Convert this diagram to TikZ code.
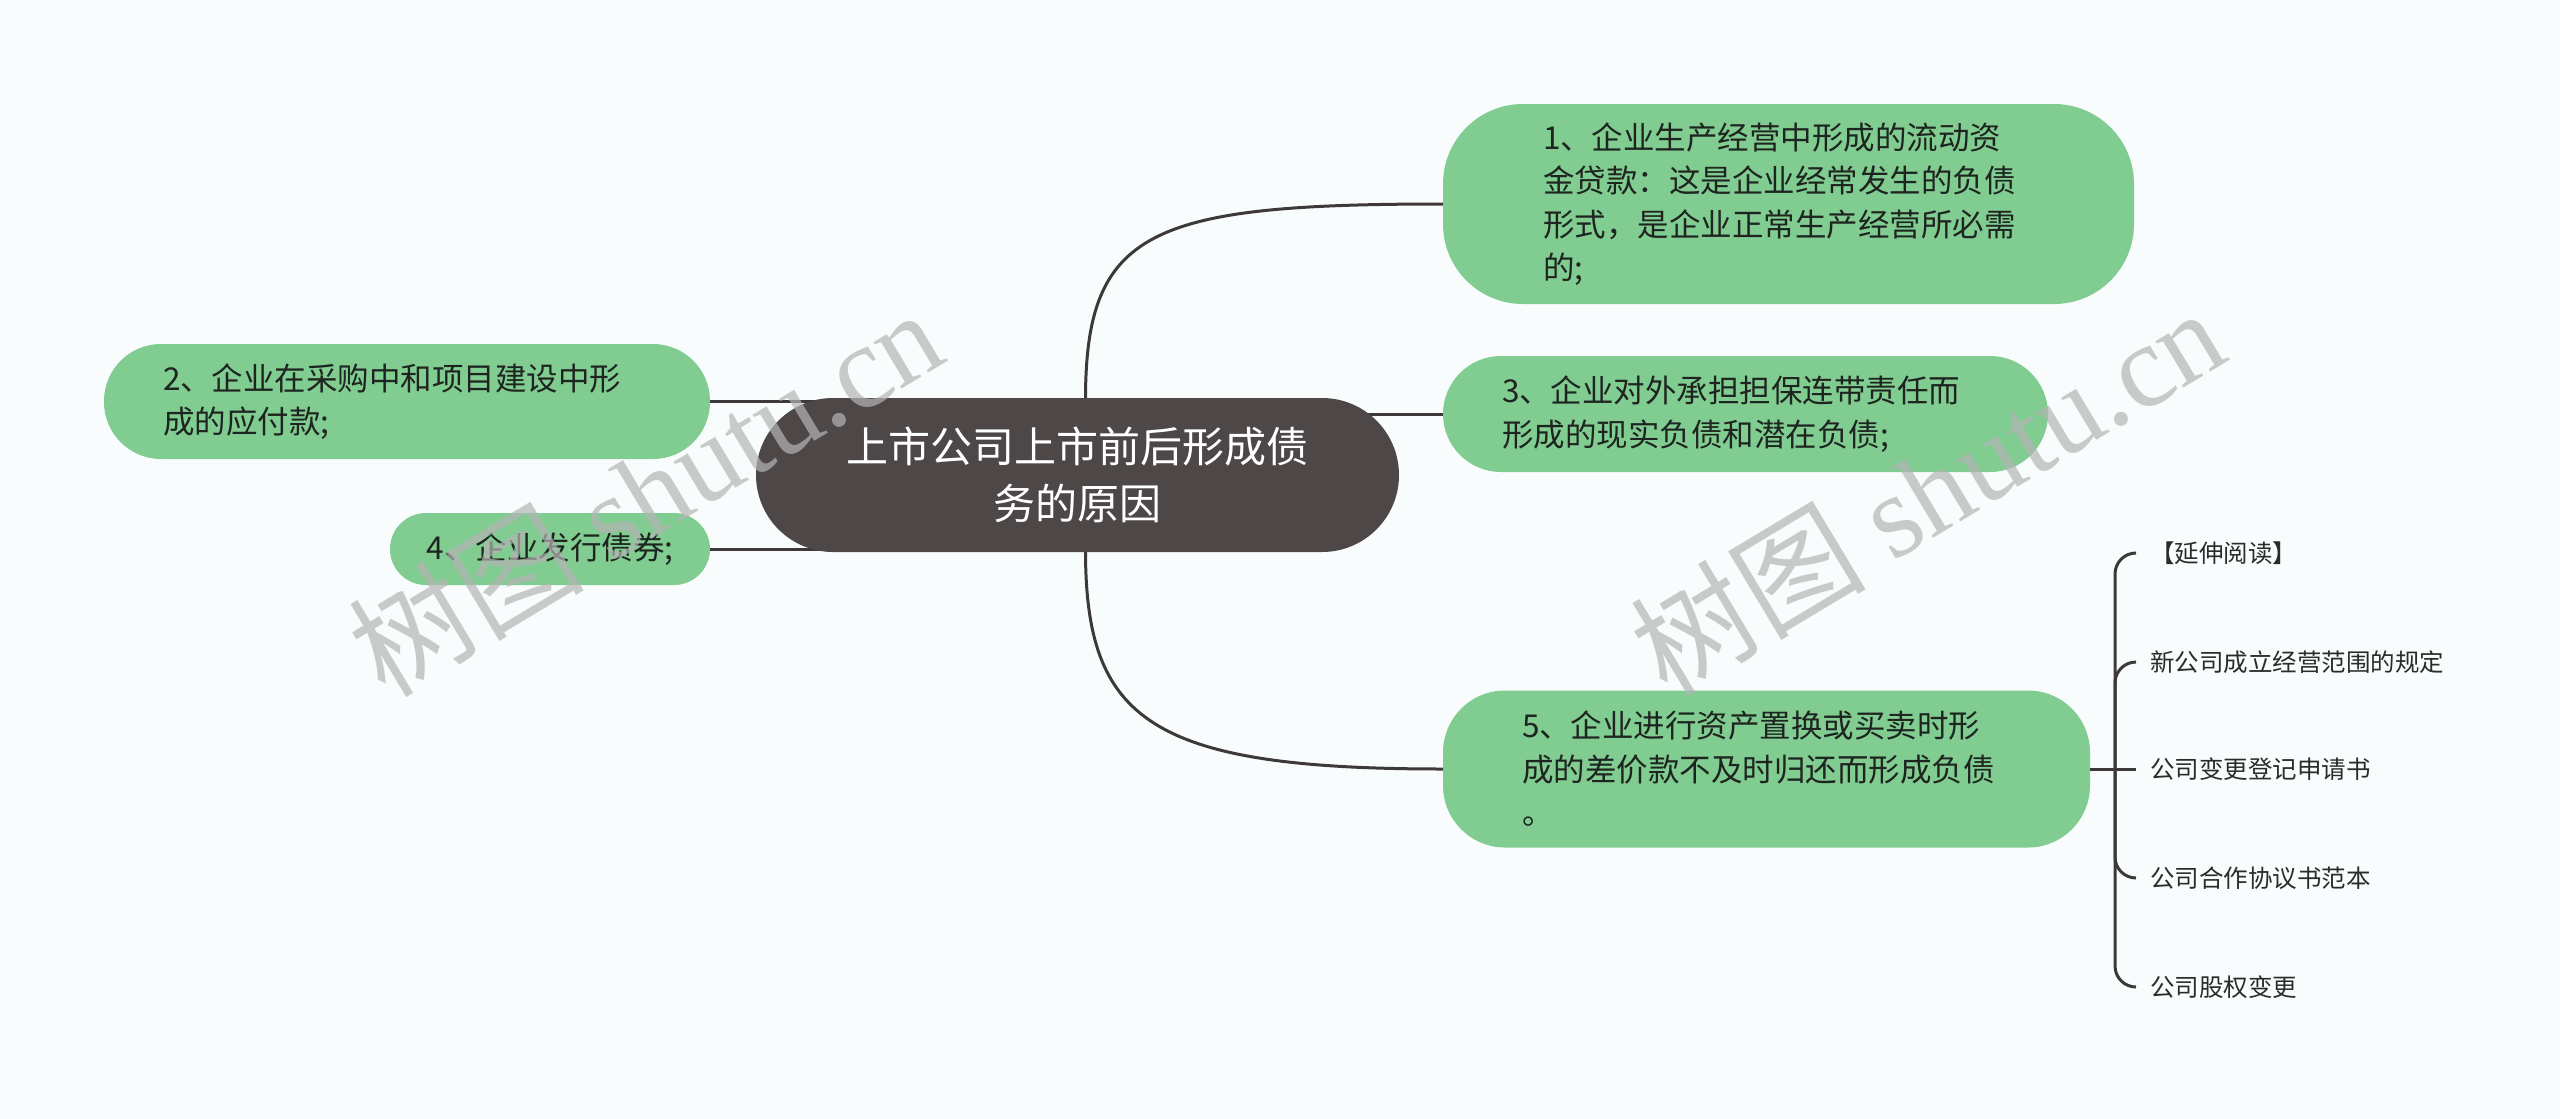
\documentclass[tikz,border=0pt]{standalone}
\usepackage{fontspec}
\setmainfont{Noto Sans CJK SC}
\newfontfamily\wmlatin{Liberation Serif}
\usetikzlibrary{backgrounds}
\definecolor{bgc}{HTML}{F8FCFD}
\definecolor{nodegreen}{HTML}{80CC91}
\definecolor{rootfill}{HTML}{4D4747}
\definecolor{linec}{HTML}{3D3939}
\definecolor{txtdark}{HTML}{1E241F}
\definecolor{leaftxt}{HTML}{2B2B2B}
\definecolor{wmc}{HTML}{B4B4B4}
\begin{document}
\begin{tikzpicture}[x=1pt,y=-1pt,
  greenbox/.style={fill=nodegreen, text=txtdark, inner sep=0pt, font=\fontsize{31.5}{43.5}\selectfont},
  rootbox/.style={fill=rootfill, text=white, inner sep=0pt, font=\fontsize{42}{57}\selectfont, align=center, rounded corners=77pt, minimum width=643pt, minimum height=154pt},
  leaf/.style={anchor=west, inner xsep=14pt, inner ysep=0pt, text=leaftxt, font=\fontsize{24.5}{30}\selectfont},
  link/.style={draw=linec, line width=3pt},
  watermark/.style={text=wmc, opacity=0.7, rotate=31, font=\fontsize{118}{118}\selectfont}
]
\useasboundingbox (0,0) rectangle (2560,1119);

% nodes
\node[rootbox] (root) at (1077.5,475) {上市公司上市前后形成债\\务的原因};
\node[greenbox, rounded corners=80pt, minimum width=691pt, minimum height=200pt, text width=491pt, align=left] (n1) at (1788.5,204) {1、企业生产经营中形成的流动资\\金贷款：这是企业经常发生的负债\\形式，是企业正常生产经营所必需\\的;};
\node[greenbox, rounded corners=57pt, minimum width=606pt, minimum height=115pt, text width=488pt, align=left] (n2) at (407,401.5) {2、企业在采购中和项目建设中形\\成的应付款;};
\node[greenbox, rounded corners=58pt, minimum width=605pt, minimum height=116pt, text width=487pt, align=left] (n3) at (1745.5,414) {3、企业对外承担担保连带责任而\\形成的现实负债和潜在负债;};
\node[greenbox, rounded corners=36pt, minimum width=320pt, minimum height=72pt, align=center] (n4) at (550,549) {4、企业发行债券;};
\node[greenbox, rounded corners=62pt, minimum width=647pt, minimum height=157pt, text width=489pt, align=left] (n5) at (1766.5,769) {5、企业进行资产置换或买卖时形\\成的差价款不及时归还而形成负债\\。};

\node[leaf] (l1) at (2136,553) {【延伸阅读】};
\node[leaf] (l2) at (2136,662) {新公司成立经营范围的规定};
\node[leaf] (l3) at (2136,769) {公司变更登记申请书};
\node[leaf] (l4) at (2136,878) {公司合作协议书范本};
\node[leaf] (l5) at (2136,987) {公司股权变更};

\coordinate (J) at (2115,769);

% connectors and background
\begin{scope}[on background layer]
  \fill[bgc] (0,0) rectangle (2560,1119);
  \draw[link] ([xshift=8pt]root.north) .. controls (1086,230) and (1150,204) .. (n1.west);
  \draw[link] ([xshift=8pt]root.south) .. controls (1086,720) and (1150,769) .. (n5.west);
  \draw[link] (n3.west) -- (n3.west -| root.center);
  \draw[link] (n2.east) -- (n2.east -| root.center);
  \draw[link] (n4.east) -- (n4.east -| root.center);
\end{scope}

\draw[link] (n5.east) -- (l3.west);
\foreach \l in {l1,l2,l4,l5}
  \draw[link, rounded corners=21pt] (J) |- (\l.west);

% watermarks
\node[watermark] (wm1) at (645,491) {树图 {\wmlatin shutu.cn}};
\node[watermark] (wm2) at (1927,490) {树图 {\wmlatin shutu.cn}};
\end{tikzpicture}
\end{document}
